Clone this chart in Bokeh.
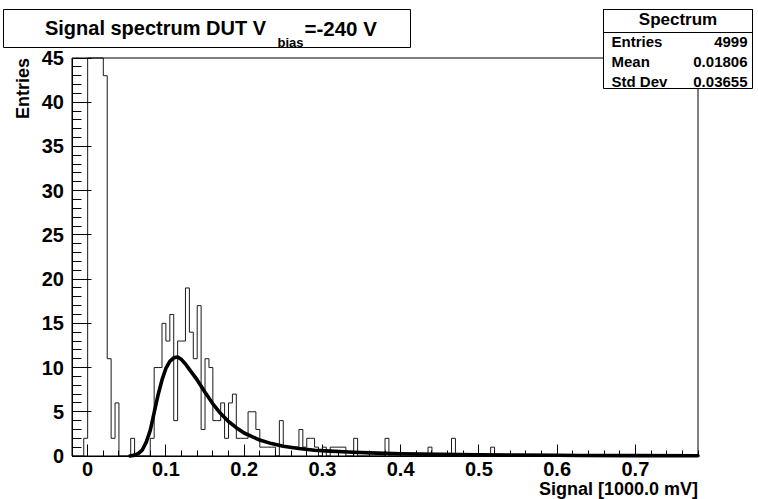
import numpy as np
from bokeh.plotting import figure
from bokeh.models import (Range1d, FixedTicker, CustomJSTickFormatter, Label,
                          BoxAnnotation, LinearAxis)
from bokeh.embed import file_html
from bokeh.resources import INLINE

# ---------------- data ----------------
# histogram: bin width 0.005, range -0.02 .. 0.78 (160 bins); non-empty bins only
bin_low_edges = [-0.005, 0.000, 0.005, 0.010, 0.015, 0.020, 0.025, 0.030, 0.035,
                 0.055, 0.080, 0.085, 0.090, 0.095, 0.100, 0.105, 0.110, 0.115,
                 0.120, 0.125, 0.130, 0.135, 0.140, 0.145, 0.150, 0.155, 0.160,
                 0.165, 0.170, 0.175, 0.180, 0.185, 0.190, 0.195, 0.200, 0.205,
                 0.210, 0.215, 0.220, 0.225, 0.230, 0.235, 0.245, 0.250, 0.255,
                 0.260, 0.265, 0.270, 0.275, 0.280, 0.285, 0.290, 0.300, 0.310,
                 0.315, 0.320, 0.325, 0.340, 0.380, 0.435, 0.465, 0.515]
bin_counts = [2, 400, 1900, 1800, 570, 43, 11, 2, 6,
              2, 2, 10, 10, 15, 13, 16, 4, 13,
              13, 19, 14, 11, 17, 3, 11, 10, 4,
              4, 6, 2, 6, 7, 2, 2, 2, 5,
              5, 3, 1, 1, 1, 1, 4, 1, 1,
              1, 1, 3, 1, 2, 2, 1, 1, 1,
              1, 1, 1, 2, 2, 1, 2, 1]
hist_x_min = -0.02
hist_x_max = 0.78
hist_bin_width = 0.005
y_max = 45

# fitted curve
fit_x = [0.054, 0.060, 0.065, 0.070, 0.075, 0.080, 0.085, 0.090, 0.095, 0.100,
         0.105, 0.110, 0.115, 0.120, 0.125, 0.130, 0.140, 0.150, 0.160, 0.170,
         0.180, 0.190, 0.200, 0.210, 0.220, 0.235, 0.250, 0.270, 0.290, 0.310,
         0.340, 0.370, 0.400, 0.450, 0.500, 0.550, 0.600, 0.630, 0.700, 0.780]
fit_y = [0.0, 0.1, 0.3, 0.7, 1.6, 2.9, 4.9, 6.9, 8.6, 9.9,
         10.7, 11.1, 11.2, 10.9, 10.4, 9.8, 8.6, 7.2, 5.9, 4.8,
         3.9, 3.2, 2.6, 2.2, 1.8, 1.4, 1.1, 0.85, 0.65, 0.55,
         0.42, 0.32, 0.25, 0.18, 0.13, 0.10, 0.08, 0.06, 0.04, 0.03]

x_ticks = [0.0, 0.1, 0.2, 0.3, 0.4, 0.5, 0.6, 0.7]
x_tick_labels = ["0", "0.1", "0.2", "0.3", "0.4", "0.5", "0.6", "0.7"]
y_ticks = [0, 5, 10, 15, 20, 25, 30, 35, 40, 45]
y_tick_labels = ["0", "5", "10", "15", "20", "25", "30", "35", "40", "45"]

title_main = "Signal spectrum DUT V"
title_sub = "bias"
title_tail = "=-240 V"
x_title = "Signal [1000.0 mV]"
y_title = "Entries"
stats_title = "Spectrum"
stats_names = ["Entries", "Mean", "Std Dev"]
stats_values = ["4999", "0.01806", "0.03655"]

# ---------------- layout (canvas pixels, pixel centres) ----------------
W, H = 758, 499
FL, FR, FT, FB = 71.5, 697.5, 57.5, 455.5   # histogram frame inside the canvas
FONT = "Liberation Sans"
sx = (hist_x_max - hist_x_min) / (FR - FL)
sy = y_max / (FB - FT)

p = figure(width=W, height=H, output_backend="svg", toolbar_location=None,
           x_axis_type=None, y_axis_type=None,
           x_range=Range1d(hist_x_min - FL * sx, hist_x_max + (W - FR) * sx),
           y_range=Range1d(-(H - FB) * sy, y_max + FT * sy),
           min_border_left=0, min_border_right=0,
           min_border_top=0, min_border_bottom=0)
p.title.visible = False
p.grid.visible = False
p.outline_line_color = None
p.background_fill_color = "white"
p.border_fill_color = "white"


def cx(px):
    return hist_x_min + (px - FL) * sx


def cy(py):
    return (FB - py) * sy


# histogram outline (drawn only up to the top of the frame)
nb = int(round((hist_x_max - hist_x_min) / hist_bin_width))
edges = hist_x_min + np.arange(nb + 1) * hist_bin_width
counts = np.zeros(nb)
for e, c in zip(bin_low_edges, bin_counts):
    counts[int(round((e - hist_x_min) / hist_bin_width))] = c
hx = [edges[0]]
hy = [0.0]
for i in range(nb):
    hx += [edges[i], edges[i + 1]]
    hy += [counts[i], counts[i]]
hx.append(edges[-1])
hy.append(0.0)
hy = np.minimum(np.array(hy), y_max)
p.line(hx, hy, line_color="#1a1a1a", line_width=1)

# fit
p.line(fit_x, fit_y, line_color="black", line_width=3.6, line_join="round",
       line_cap="round")


def box(left, right, top, bottom, fill=True):
    p.add_layout(BoxAnnotation(left=left, right=right, top=top, bottom=bottom,
                               fill_color="white", fill_alpha=1.0 if fill else 0.0,
                               line_color="black", line_alpha=1.0, line_width=1))


# frame box
box(hist_x_min, hist_x_max, y_max, 0, fill=False)

# axes
fmt_js = ("const i = vals.findIndex(v => Math.abs(v - tick) < 1e-6);"
          "return i >= 0 ? labs[i] : '';")
xa = LinearAxis(fixed_location=0, bounds=(hist_x_min, hist_x_max))
xa.ticker = FixedTicker(ticks=x_ticks,
                        minor_ticks=list(np.round(np.arange(-0.02, 0.7801, 0.02), 4)))
xa.formatter = CustomJSTickFormatter(args=dict(vals=x_ticks, labs=x_tick_labels), code=fmt_js)
ya = LinearAxis(fixed_location=hist_x_min, bounds=(0, y_max))
ya.ticker = FixedTicker(ticks=y_ticks, minor_ticks=list(range(0, 46)))
ya.formatter = CustomJSTickFormatter(args=dict(vals=y_ticks, labs=y_tick_labels), code=fmt_js)
for ax, tin, min_in, stand in ((xa, 12, 6, 6), (ya, 19, 9, 8)):
    ax.axis_line_color = "black"
    ax.major_tick_line_color = "black"
    ax.minor_tick_line_color = "black"
    ax.major_tick_in = tin
    ax.major_tick_out = 0
    ax.minor_tick_in = min_in
    ax.minor_tick_out = 0
    ax.major_label_text_font = FONT
    ax.major_label_text_font_style = "bold"
    ax.major_label_text_font_size = "20px"
    ax.major_label_text_color = "black"
    ax.major_label_standoff = stand
p.add_layout(xa, "below")
p.add_layout(ya, "left")


def lab(text, px, py, size, align="left", angle=0.0):
    p.add_layout(Label(x=cx(px), y=cy(py), x_units="data", y_units="data",
                       text=text, text_font=FONT, text_font_style="bold",
                       text_font_size=size, text_align=align,
                       text_baseline="middle", angle=angle, text_color="black"))


# axis titles
lab(y_title, 22, FT, "18px", align="right", angle=np.pi / 2)
lab(x_title, FR, 488, "18px", align="right")

# title box
box(cx(3), cx(410), cy(9), cy(47))
lab(title_main, 155, 27.5, "20px", align="center")
lab(title_sub, 290, 41.5, "13px", align="center")
lab(title_tail, 304, 27.5, "20.5px", align="left")

# stats box
box(cx(603), cx(752), cy(9), cy(88))
box(cx(603), cx(752), cy(9), cy(32), fill=False)
lab(stats_title, 677.5, 19, "17px", align="center")
for k, (nm, vv) in enumerate(zip(stats_names, stats_values)):
    lab(nm, 611, 41 + 20 * k, "15px", align="left")
    lab(vv, 747, 41 + 20 * k, "15px", align="right")

open("out.html", "w").write(file_html(p, INLINE))
